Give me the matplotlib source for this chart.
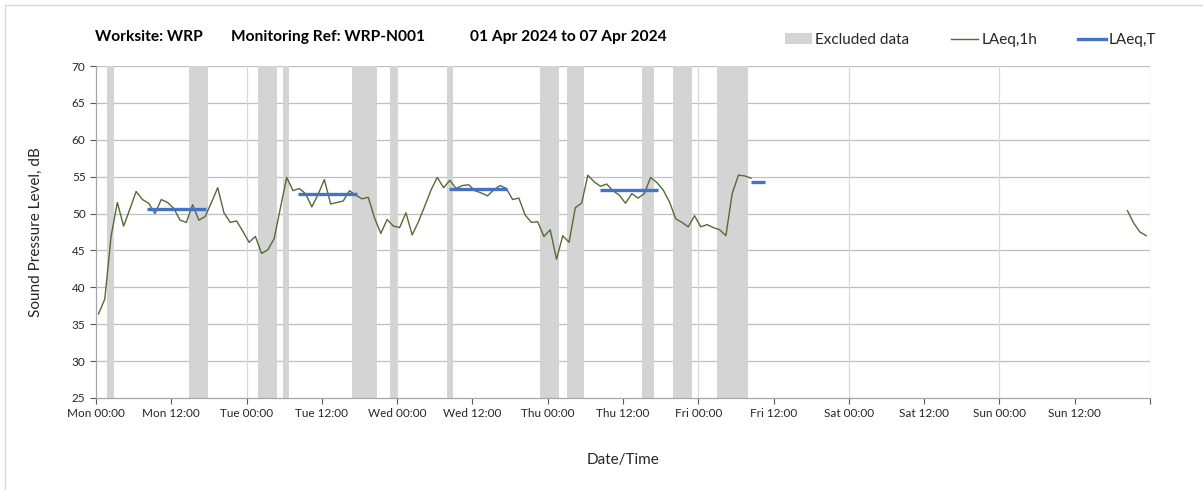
import matplotlib.pyplot as plt
from matplotlib.lines import Line2D
from matplotlib.patches import Patch

plt.rcParams['font.family'] = ['Lato', 'DejaVu Sans']

# hourly LAeq,1h values, hours after Mon 00:00
start_1 = 0.4
laeq_1h_a = [36.4, 38.4, 46.9, 51.5, 48.3, 50.6, 53.0, 51.9, 51.4, 50.0,
             51.9, 51.5, 50.7, 49.1, 48.8, 51.2, 49.1, 49.6, 51.5, 53.5,
             50.1, 48.8, 49.0, 47.6, 46.1, 46.9, 44.6, 45.1, 46.6, 50.8,
             54.9, 53.1, 53.4, 52.7, 50.9, 52.6, 54.6, 51.3, 51.5, 51.7,
             53.1, 52.5, 52.0, 52.2, 49.4, 47.3, 49.2, 48.3, 48.1, 50.1,
             47.1, 48.9, 51.0, 53.2, 54.9, 53.5, 54.5, 53.4, 53.8, 53.9,
             53.1, 52.8, 52.4, 53.2, 53.8, 53.4, 51.9, 52.1, 49.8, 48.8,
             48.9, 46.9, 47.8, 43.8, 47.0, 46.1, 50.8, 51.4, 55.2, 54.3,
             53.7, 54.0, 53.1, 52.5, 51.4, 52.7, 52.1, 52.7, 54.9, 54.2,
             53.2, 51.6, 49.3, 48.8, 48.2, 49.7, 48.2, 48.5, 48.1, 47.8,
             47.0, 52.7, 55.2, 55.1, 54.8]
start_2 = 164.4
laeq_1h_b = [50.4, 48.7, 47.5, 47.0]

# LAeq,T periods (start h, end h, level)
laeq_t_start = [8.2, 32.2, 56.2, 80.3, 104.4]
laeq_t_end = [17.6, 41.6, 65.5, 89.6, 106.6]
laeq_t_level = [50.6, 52.6, 53.3, 53.2, 54.3]

# excluded periods (start h, end h)
excl_start = [1.8, 14.8, 25.8, 29.8, 40.8, 46.9, 55.9, 70.8, 75.0, 87.0,
              92.0, 99.0]
excl_end = [2.8, 17.8, 28.8, 30.8, 44.8, 47.9, 56.9, 73.8, 77.8, 88.9,
            95.0, 104.0]

days = ['Mon', 'Tue', 'Wed', 'Thu', 'Fri', 'Sat', 'Sun']
x_labels = ['{} {}'.format(d, t) for d in days for t in ['00:00', '12:00']]

title_parts = ['Worksite: WRP', 'Monitoring Ref: WRP-N001',
               '01 Apr 2024 to 07 Apr 2024']

green = '#556b35'
blue = '#4472c4'
grey_band = '#d4d4d4'

fig = plt.figure(figsize=(12.03, 4.9), dpi=100)
ax = fig.add_axes([96 / 1203, 1 - 398 / 490, 1054 / 1203, 332 / 490])

for s, e in zip(excl_start, excl_end):
    ax.axvspan(s, e, color=grey_band, lw=0, zorder=1)

xa = [start_1 + i for i in range(len(laeq_1h_a))]
xb = [start_2 + i for i in range(len(laeq_1h_b))]
ax.plot(xa, laeq_1h_a, color=green, lw=1.0, zorder=3)
ax.plot(xb, laeq_1h_b, color=green, lw=1.0, zorder=3)

for s, e, v in zip(laeq_t_start, laeq_t_end, laeq_t_level):
    ax.plot([s, e], [v, v], color=blue, lw=2.4, solid_capstyle='butt',
            zorder=4)

ax.set_xlim(0, 168)
ax.set_ylim(25, 70)
ax.set_yticks(range(25, 71, 5))
ax.set_xticks(range(0, 169, 12))
ax.set_xticklabels(x_labels + [''])
ax.tick_params(axis='both', labelsize=8.5, colors='#595959',
               labelcolor='#262626', length=4, width=0.8)

for y in range(30, 71, 5):
    ax.axhline(y, color='#bfbfbf', lw=0.9, zorder=0)
for x in range(24, 169, 24):
    ax.axvline(x, color='#d9d9d9', lw=0.9, zorder=0)

for side in ['top', 'right']:
    ax.spines[side].set_visible(False)
for side in ['left', 'bottom']:
    ax.spines[side].set_color('#a6a6a6')
    ax.spines[side].set_linewidth(0.9)

ax.set_ylabel('Sound Pressure Level, dB', fontsize=11, color='#262626',
              labelpad=21)
ax.set_xlabel('Date/Time', fontsize=11, color='#262626', labelpad=24)

for xp, txt in zip([95, 231, 470], title_parts):
    fig.text(xp / 1203, 1 - 37 / 490, txt, fontsize=11.2,
             fontweight='bold', ha='left', va='center')

handles = [Patch(color=grey_band, lw=0),
           Line2D([], [], color=green, lw=1.0),
           Line2D([], [], color=blue, lw=2.4)]
fig.legend(handles, ['Excluded data', 'LAeq,1h', 'LAeq,T'], ncol=3,
           loc='center right', bbox_to_anchor=(1170 / 1203, 1 - 40 / 490),
           frameon=False, fontsize=11, handlelength=1.8, handletextpad=0.2,
           columnspacing=2.7, labelcolor='#262626')

# outer frame of the panel
fig.add_artist(Line2D([5 / 1203, 1], [1 - 5 / 490, 1 - 5 / 490],
                      color='#d9d9d9', lw=1))
fig.add_artist(Line2D([5 / 1203, 5 / 1203], [0, 1 - 5 / 490],
                      color='#d9d9d9', lw=1))

plt.savefig('out.png', dpi=100)
plt.close('all')
